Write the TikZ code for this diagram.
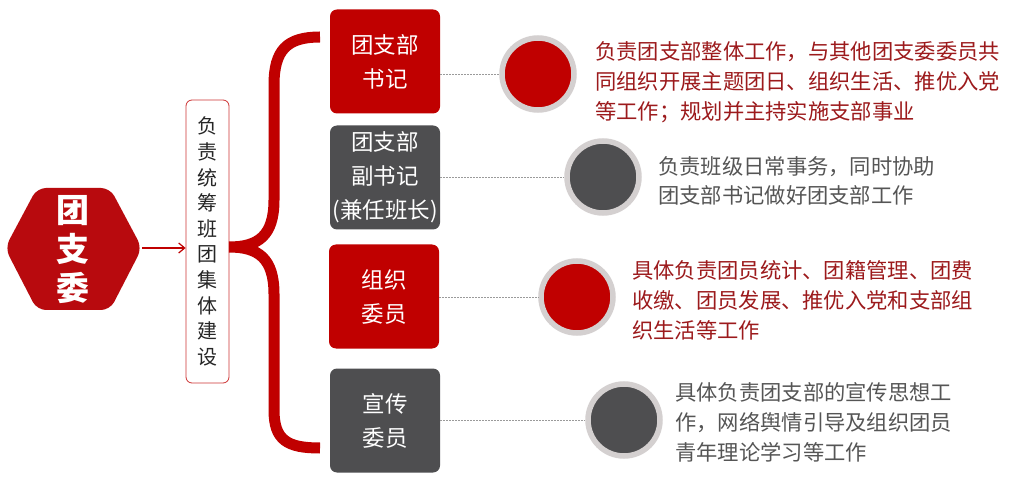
\documentclass[tikz,border=0pt]{standalone}
\usepackage{fontspec}
\setmainfont{Noto Sans CJK SC}
\usetikzlibrary{arrows.meta}
\definecolor{boxred}{HTML}{C00000}
\definecolor{hexred}{HTML}{B80A0E}
\definecolor{boxgray}{HTML}{4E4E50}
\definecolor{ringgray}{HTML}{D4D0D0}
\definecolor{txtred}{HTML}{9C1A1C}
\definecolor{txtgray}{HTML}{555555}
\definecolor{dashgray}{HTML}{9A9A9A}
\tikzset{
  rolebox/.style={rounded corners=7pt, minimum width=110pt, minimum height=104pt, inner sep=0pt,
    text=white, align=center, font=\fontsize{22.5}{34}\selectfont},
  redbox/.style={rolebox, fill=boxred},
  graybox/.style={rolebox, fill=boxgray},
  dot/.style={circle, minimum size=72pt, inner sep=0pt, draw=ringgray, line width=5.5pt},
  reddot/.style={dot, fill=boxred},
  graydot/.style={dot, fill=boxgray},
  desc/.style={anchor=west, inner sep=0pt, align=left, font=\fontsize{21.3}{30}\selectfont},
  link/.style={draw=dashgray, line width=0.7pt, dash pattern=on 2pt off 1pt},
}
\begin{document}
\begin{tikzpicture}[x=1pt,y=-1pt]
\useasboundingbox (0,0) rectangle (1012,486);
\fill[white] (0,0) rectangle (1012,486);

% hexagon
\fill[hexred, rounded corners=9pt] (5,248) -- (37,188) -- (110,188) -- (142,248) -- (110,310) -- (37,310) -- cycle;
\node (hex) at (73,250) [text=white, align=center, inner sep=0pt, font=\bfseries\fontsize{33}{39}\selectfont] {团\\支\\委};
\coordinate (hexR) at (142,248);

% vertical box
\node (vbox) [draw=boxred!80!white, line width=0.8pt, fill=white, rounded corners=6pt,
  minimum width=43pt, minimum height=283pt, inner sep=0pt, text=black!85,
  align=center, font=\fontsize{20}{25.6}\selectfont] at (207.5,241.5)
  {负\\责\\统\\筹\\班\\团\\集\\体\\建\\设};

\draw[boxred, line width=1.2pt, -{Straight Barb[length=6pt,width=10pt]}] (hexR) -- (vbox.west |- hexR);

% brace
\coordinate (tip) at (229,247);
\coordinate (btop) at (320,37);
\coordinate (bbot) at (320,448);
\draw[boxred, line width=11pt] (btop) .. controls (287,37) and (274,50) .. (274,85)
  -- (274,200) .. controls (274,236) and (258,247) .. (tip)
  .. controls (258,247) and (274,258) .. (274,294)
  -- (274,410) .. controls (274,440) and (287,448) .. (bbot);

% role boxes
\node (b1) [redbox] at (385,61.5) {团支部\\书记};
\node (b2) [graybox] at (385,177.5) {团支部\\副书记\\(兼任班长)};
\node (b3) [redbox] at (384,296.5) {组织\\委员};
\node (b4) [graybox] at (385,420.5) {宣传\\委员};

% circles
\node (c1) [reddot] at (538,74) {};
\node (c2) [graydot] at (603,177) {};
\node (c3) [reddot] at (577,297) {};
\node (c4) [graydot] at (624,420) {};

% dashed links
\draw[link] (b1.east |- c1) -- (c1.west);
\draw[link] (b2.east |- c2) -- (c2.west);
\draw[link] (b3.east |- c3) -- (c3.west);
\draw[link] (b4.east |- c4) -- (c4.west);

% descriptions
\node (t1) [desc, text=txtred] at (595,82) {负责团支部整体工作，与其他团支委委员共\\同组织开展主题团日、组织生活、推优入党\\等工作；规划并主持实施支部事业};
\node (t2) [desc, text=txtgray, font=\fontsize{21.3}{28.5}\selectfont] at (658,181) {负责班级日常事务，同时协助\\团支部书记做好团支部工作};
\node (t3) [desc, text=txtred] at (632,300) {具体负责团员统计、团籍管理、团费\\收缴、团员发展、推优入党和支部组\\织生活等工作};
\node (t4) [desc, text=txtgray] at (675,422) {具体负责团支部的宣传思想工\\作，网络舆情引导及组织团员\\青年理论学习等工作};
\end{tikzpicture}
\end{document}
